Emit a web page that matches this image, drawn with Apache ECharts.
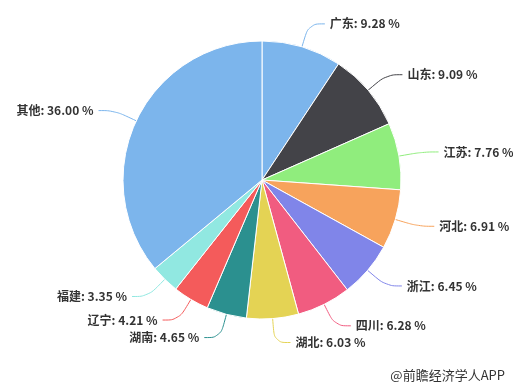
<!DOCTYPE html>
<html><head><meta charset="utf-8">
<script src="https://cdn.jsdelivr.net/npm/echarts@6/dist/echarts.min.js"></script>
<style>html,body{margin:0;padding:0;background:#fff}#c{width:513px;height:386px}</style>
</head><body><div id="c"></div>
<script>
const names = ['广东','山东','江苏','河北','浙江','四川','湖北','湖南','辽宁','福建','其他'];
const values = [9.28,9.09,7.76,6.91,6.45,6.28,6.03,4.65,4.21,3.35,36.00];
const colors = ['#7cb5ec','#434348','#90ed7d','#f7a35c','#8085e9','#f15c80','#e4d354','#2b908f','#f45b5b','#91e8e1','#7cb5ec'];
const chart = echarts.init(document.getElementById('c'));
chart.setOption({
  animation:false,
  color: colors,
  series:[{
    type:'pie',
    center:[262,180],
    radius:[0,139],
    startAngle:90,
    clockwise:true,
    avoidLabelOverlap:true,
    itemStyle:{borderColor:'#fff',borderWidth:1},
    label:{
      formatter: p => p.name + ': ' + p.value.toFixed(2) + ' %',
      fontFamily:'"Noto Sans CJK SC", sans-serif',
      fontSize:12, fontWeight:'bold', color:'#333',
      overflow:'none'
    },
    labelLine:{length:24,length2:16,smooth:0.4,lineStyle:{width:1}},
    data: names.map((n,i)=>({name:n,value:values[i]}))
  }],
  graphic:[{type:'text',right:8,bottom:4,style:{text:'@前瞻经济学人APP',fill:'#333',font:'13px "Noto Sans CJK SC", sans-serif'}}]
});
</script></body></html>
